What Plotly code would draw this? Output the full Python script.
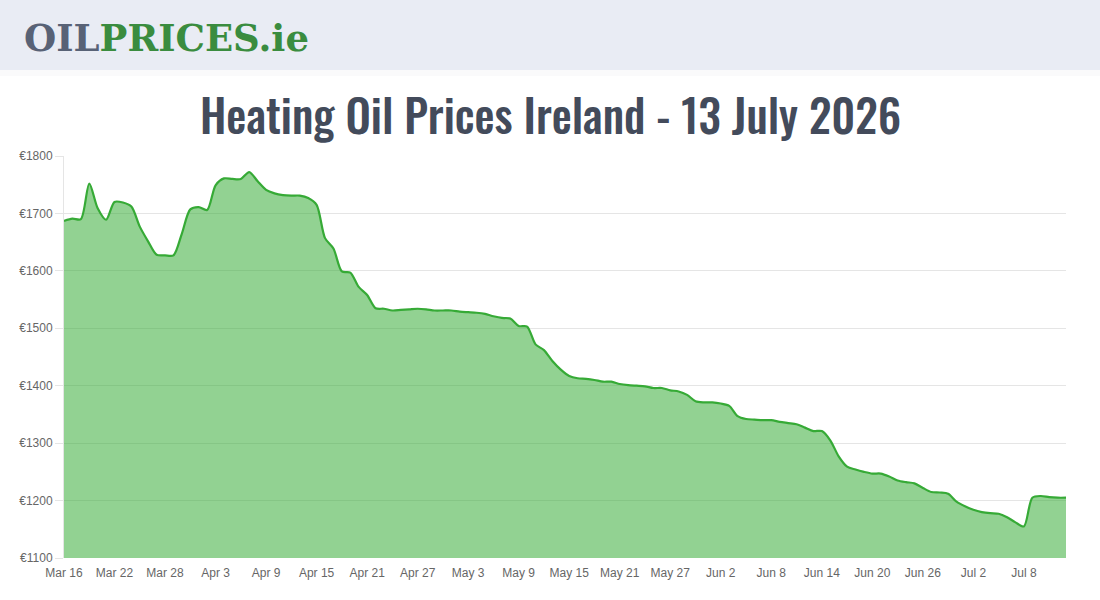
import plotly.graph_objects as go
import pandas as pd

start_date = "2026-03-16"
end_date = "2026-07-13"
prices = [
    1687, 1691, 1690, 1752, 1709, 1689, 1720, 1719, 1712, 1677,
    1651, 1628, 1627, 1627, 1665, 1707, 1711, 1706, 1749, 1761,
    1760, 1760, 1772, 1756, 1741, 1735, 1732, 1731, 1731, 1727,
    1715, 1657, 1639, 1599, 1597, 1572, 1558, 1535, 1534, 1531,
    1532, 1533, 1534, 1533, 1531, 1531, 1531, 1529, 1528, 1527,
    1525, 1521, 1518, 1517, 1504, 1503, 1472, 1462, 1443, 1428,
    1417, 1413, 1412, 1410, 1407, 1407, 1403, 1401, 1400, 1399,
    1396, 1396, 1392, 1390, 1384, 1373, 1371, 1371, 1369, 1365,
    1347, 1342, 1341, 1340, 1340, 1337, 1335, 1333, 1327, 1321,
    1321, 1305, 1277, 1259, 1254, 1250, 1247, 1247, 1242, 1235,
    1232, 1230, 1222, 1215, 1214, 1212, 1198, 1190, 1184, 1180,
    1178, 1177, 1171, 1162, 1155, 1205, 1208, 1206, 1205, 1205,
]
dates = pd.date_range(start_date, periods=len(prices), freq="D")
title_text = "Heating Oil Prices Ireland - 13 July 2026"
y_min, y_max, y_step = 1100, 1800, 100

W, H = 1100, 600
L, R, T, B = 64, 34, 156, 42
ph = H - T - B
pw = W - L - R

def px_x(x):
    return (x - L) / pw

def px_y(y):
    return (H - B - y) / ph

fig = go.Figure()
fig.add_trace(go.Scatter(
    x=dates, y=prices, mode="lines",
    line=dict(color="#36aa36", width=2.2, shape="spline", smoothing=0.8),
    fill="tozeroy", fillcolor="rgba(50,170,50,0.53)",
    hovertemplate="%{x|%b %-d}: €%{y}<extra></extra>",
))

shapes = []
for i, c in enumerate(["#f1f2f6", "#f6f7f9", "#fafafb"]):
    shapes.append(dict(type="rect", xref="paper", yref="paper", layer="below",
                       x0=px_x(0), x1=px_x(W), y0=px_y(70 + 2 * (i + 1)), y1=px_y(70),
                       line=dict(width=0), fillcolor=c))
shapes.append(dict(type="rect", xref="paper", yref="paper", layer="below",
                   x0=px_x(0), x1=px_x(W), y0=px_y(70), y1=px_y(0),
                   line=dict(width=0), fillcolor="#e9ecf4"))

annotations = [
    dict(xref="paper", yref="paper", x=px_x(22), y=px_y(38), xanchor="left", yanchor="middle",
         showarrow=False,
         text="<b><span style='color:#586276'>OIL</span><span style='color:#3a8c3f'>PRICES.ie</span></b>",
         font=dict(family="DejaVu Serif", size=37)),
    dict(xref="paper", yref="paper", x=px_x(550), y=px_y(114), xanchor="center", yanchor="middle",
         showarrow=False, text=title_text,
         font=dict(family="Oswald, Liberation Sans Narrow, DejaVu Sans Condensed, Roboto",
                   size=45, weight=500, color="#434b5b")),
]

fig.update_layout(
    width=W, height=H,
    margin=dict(l=L, r=R, t=T, b=B, pad=0),
    paper_bgcolor="white", plot_bgcolor="white",
    showlegend=False,
    shapes=shapes, annotations=annotations,
    font=dict(family="Liberation Sans, Arial", size=12, color="#666666"),
    xaxis=dict(type="date", range=[start_date, end_date], tick0=start_date,
               dtick=6 * 86400000, tickformat="%b %-d", showgrid=False,
               zeroline=False, showline=False, ticks="", ticklabelstandoff=6,
               tickfont=dict(size=12, color="#666666")),
    yaxis=dict(range=[y_min, y_max], dtick=y_step, tick0=y_min, tickprefix="€",
               showgrid=True, gridcolor="#e5e5e5", gridwidth=1, zeroline=False,
               showline=True, linecolor="#e5e5e5", linewidth=1,
               ticks="outside", ticklen=8, tickcolor="#e5e5e5",
               tickfont=dict(size=12, color="#666666")),
)

fig.write_html("out.html")
